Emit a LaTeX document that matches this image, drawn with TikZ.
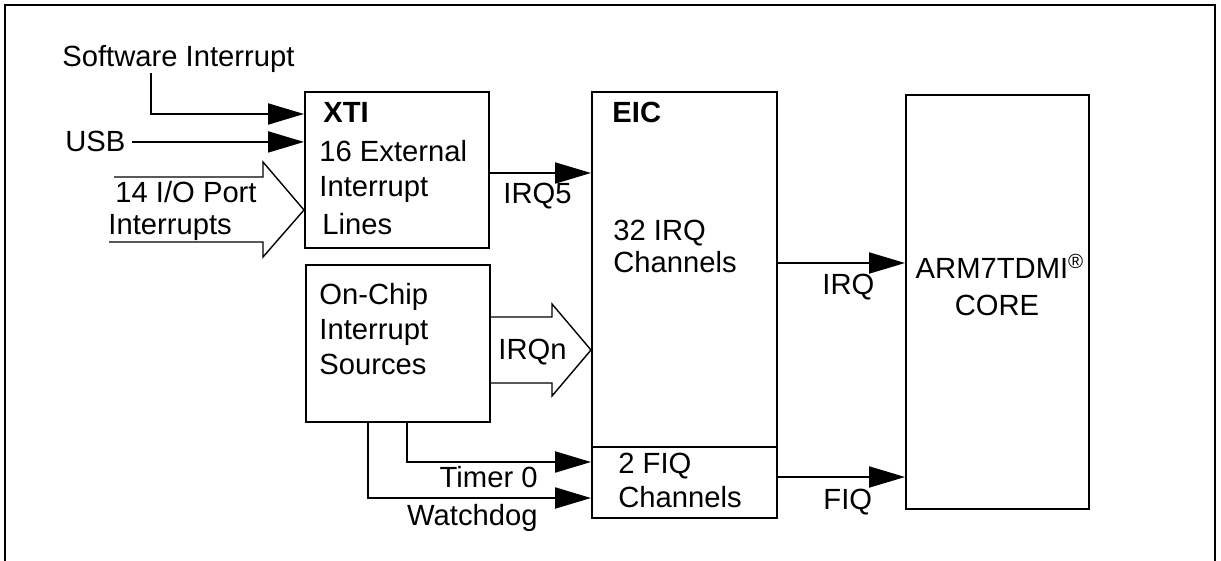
\documentclass[tikz,border=0pt]{standalone}
\usepackage{fontspec}
\setmainfont{Liberation Sans}
\usetikzlibrary{arrows.meta}

\tikzset{
  blk/.style={draw, line width=1pt, inner sep=0pt},
  lbl/.style={inner sep=0pt, anchor=base west},
  farrow/.style={line width=1pt, -{Triangle[length=18pt,width=10.5pt]}},
  hollow/.style={line width=0.7pt, line join=miter},
}

\begin{document}
\begin{tikzpicture}[x=0.5pt, y=-0.5pt, font=\fontsize{14.6}{17.5}\selectfont]
\useasboundingbox (0,0) rectangle (1221,561);
% frame, open at the bottom
\draw[line width=1pt] (5,561) -- (5,5) -- (1215,5) -- (1215,561);

% blocks
\node[blk, minimum width=92pt, minimum height=78pt] (xti) at (397,170) {};
\node[blk, minimum width=92pt, minimum height=78.5pt] (onchip) at (398,343.5) {};
\node[blk, minimum width=92.5pt, minimum height=213pt] (eic) at (684.5,305) {};
\node[blk, minimum width=91.5pt, minimum height=207pt] (arm) at (997.5,302) {};
\draw[line width=1pt] (eic.west |- 0,447) -- (eic.east |- 0,447);

% block texts
\node[lbl] (xtiname) at (323,123) {\textbf{XTI}};
\node[lbl] (xti1) at (319,162) {16 External};
\node[lbl] (xti2) at (319,197) {Interrupt};
\node[lbl] (xti3) at (322,235) {Lines};
\node[lbl] (onchip1) at (319,305) {On-Chip};
\node[lbl] (onchip2) at (319,340) {Interrupt};
\node[lbl] (onchip3) at (319,374) {Sources};
\node[lbl] (eicname) at (612,123) {\textbf{EIC}};
\node[lbl] (eic1) at (613,241) {32 IRQ};
\node[lbl] (eic2) at (613,273) {Channels};
\node[lbl] (fiq1) at (618,473) {2 FIQ};
\node[lbl] (fiq2) at (618,507) {Channels};
\node[lbl, anchor=base] (armname) at (1000,279) {ARM7TDMI\textsuperscript{\textregistered}};
\node[lbl, anchor=base] (armcore) at (997,315) {CORE};

% inputs
\node[lbl] (sw) at (62,67) {Software Interrupt};
\node[lbl] (usb) at (65,152) {USB};
\node[lbl] (io1) at (115,203) {14 I/O Port};
\node[lbl] (io2) at (108,235) {Interrupts};
\draw[farrow] (sw.south -| 151,0) |- (xti.west |- 0,114);
\draw[farrow] ([xshift=3pt]usb.east) -- (xti.west |- usb.east);
\draw[hollow] (114,177) -- (263,177) -- (263,162) -- (xti.west |- 0,210)
  -- (263,257) -- (263,242) -- (109,242);

% into the EIC
\draw[farrow] (xti.east |- 0,173) -- (eic.west |- 0,173);
\node[lbl] (irqfive) at (503,204) {IRQ5};
\draw[hollow] (onchip.east |- 0,317) -- (552,317) -- (552,304) -- (eic.west |- 0,350)
  -- (552,396) -- (552,383) -- (onchip.east |- 0,383);
\node[lbl] (irqn) at (498,359) {IRQn};
\draw[farrow] (onchip.south -| 407,0) |- (eic.west |- 0,462);
\draw[farrow] (onchip.south -| 368,0) |- (eic.west |- 0,498);
\node[lbl, anchor=base east] (timer) at (538,487) {Timer 0};
\node[lbl, anchor=base east] (wdog) at (538,525) {Watchdog};

% to the core
\draw[farrow] (eic.east |- 0,263) -- (arm.west |- 0,263);
\draw[farrow] (eic.east |- 0,477) -- (arm.west |- 0,477);
\node[lbl] (irqlbl) at (822,295) {IRQ};
\node[lbl] (fiqlbl) at (823,509) {FIQ};
\end{tikzpicture}
\end{document}
